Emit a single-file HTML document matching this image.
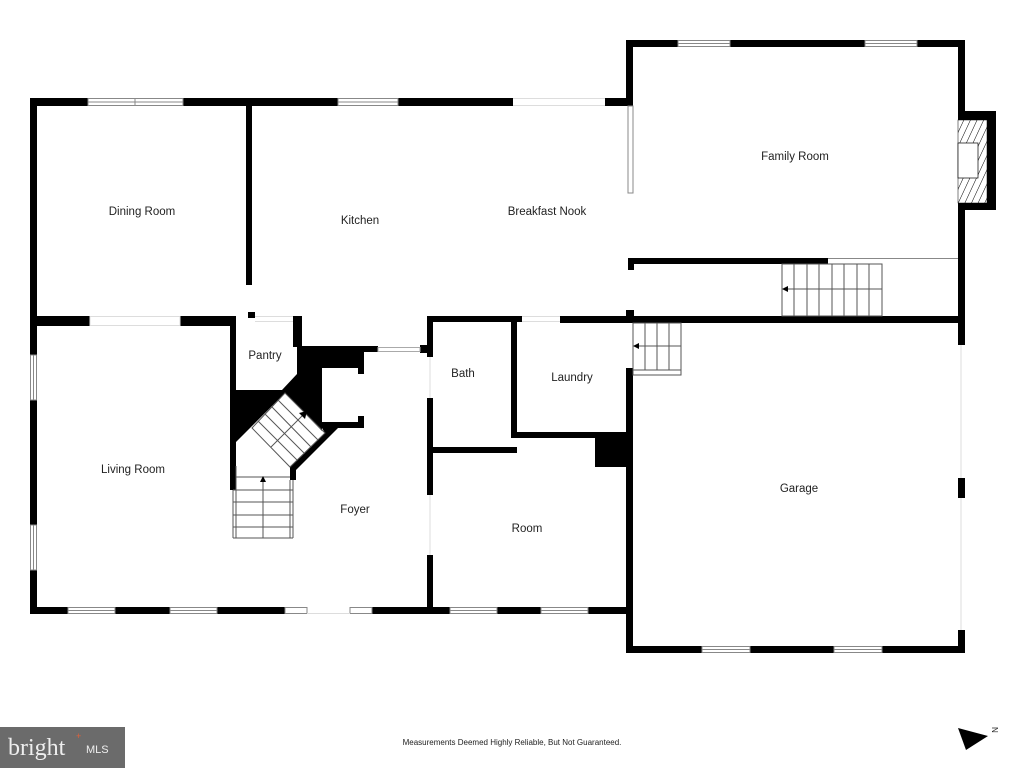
<!DOCTYPE html>
<html><head><meta charset="utf-8"><style>
html,body{margin:0;padding:0;background:#fff;width:1024px;height:768px;overflow:hidden}
svg{display:block}
text{font-family:"Liberation Sans",sans-serif;font-size:11.5px;fill:#222}
</style></head><body>
<svg width="1024" height="768" viewBox="0 0 1024 768" xmlns="http://www.w3.org/2000/svg">
<defs>
<pattern id="h" width="6" height="6" patternUnits="userSpaceOnUse" patternTransform="rotate(25)">
<rect width="6" height="6" fill="#fff"/><line x1="0" y1="0" x2="0" y2="6" stroke="#000" stroke-width="1"/></pattern>
</defs>
<g fill="#000">
<!-- main top wall -->
<rect x="30" y="98" width="58" height="8"/><rect x="183" y="98" width="155" height="8"/><rect x="398" y="98" width="115" height="8"/><rect x="605" y="98" width="28" height="8"/>
<!-- left wall -->
<rect x="30" y="98" width="7" height="257"/><rect x="30" y="400" width="7" height="125"/><rect x="30" y="570" width="7" height="44"/>
<!-- bottom wall -->
<rect x="30" y="607" width="38" height="7"/><rect x="115" y="607" width="55" height="7"/><rect x="217" y="607" width="68" height="7"/><rect x="372" y="607" width="78" height="7"/><rect x="497" y="607" width="44" height="7"/><rect x="588" y="607" width="44" height="7"/>
<!-- dining/living divider -->
<rect x="30" y="316" width="60" height="10"/><rect x="180" y="316" width="50" height="10"/>
<!-- dining/kitchen wall -->
<rect x="246" y="104" width="6" height="181"/><rect x="248" y="312" width="7" height="6"/>
<!-- pantry -->
<rect x="230" y="316" width="6" height="174"/><rect x="293" y="316" width="9" height="31"/>
<polygon points="236,390 282,390 297,374 297,346 364,346 364,368 322,368 322,431 285,393 235,443"/>
<rect x="363" y="346" width="15" height="6"/>
<rect x="322" y="422" width="42" height="6"/>
<rect x="358" y="366" width="6" height="8"/><rect x="358" y="416" width="6" height="8"/>
<polygon points="322,428 338,428 296,470 296,480 290,480 290,467 325,433"/>
<rect x="420" y="345" width="10" height="8"/>
<!-- bath/laundry -->
<rect x="427" y="316" width="6" height="41"/><rect x="427" y="398" width="6" height="97"/><rect x="427" y="555" width="6" height="59"/>
<rect x="427" y="316" width="95" height="6"/><rect x="560" y="316" width="405" height="7"/>
<rect x="511" y="316" width="6" height="122"/><rect x="430" y="447" width="87" height="6"/>
<rect x="511" y="432" width="117" height="6"/><rect x="595" y="432" width="33" height="35"/>
<!-- garage -->
<rect x="626" y="310" width="7" height="12"/><rect x="626" y="368" width="7" height="285"/>
<rect x="626" y="646" width="76" height="7"/><rect x="750" y="646" width="84" height="7"/><rect x="882" y="646" width="83" height="7"/>
<rect x="958" y="630" width="7" height="23"/><rect x="958" y="478" width="7" height="20"/><rect x="958" y="258" width="7" height="87"/>
<!-- hallway stair -->
<rect x="628" y="258" width="200" height="6"/><rect x="628" y="258" width="6" height="12"/><rect x="628" y="310" width="6" height="12"/>
<!-- family room -->
<rect x="626" y="40" width="52" height="7"/><rect x="730" y="40" width="135" height="7"/><rect x="917" y="40" width="48" height="7"/>
<rect x="626" y="40" width="7" height="66"/><rect x="958" y="40" width="7" height="218"/>
<rect x="958" y="111" width="38" height="99"/>
</g>
<rect x="958" y="120" width="29" height="83" fill="url(#h)" stroke="#000" stroke-width="0.5"/>
<rect x="958" y="143" width="20" height="35" fill="#fff" stroke="#000" stroke-width="0.7"/>
<g fill="none" stroke="#888" stroke-width="1">
<rect x="88" y="98.5" width="95" height="7"/><line x1="88" y1="102" x2="183" y2="102"/><line x1="135" y1="98" x2="135" y2="106"/>
<rect x="338" y="98.5" width="60" height="7"/><line x1="338" y1="102" x2="398" y2="102"/>
<line x1="513" y1="98.5" x2="605" y2="98.5" stroke="#ddd"/><line x1="513" y1="105.5" x2="605" y2="105.5" stroke="#ddd"/>
<rect x="628" y="106" width="5" height="87"/>
<rect x="678" y="40.5" width="52" height="6"/><line x1="678" y1="43.5" x2="730" y2="43.5"/>
<rect x="865" y="40.5" width="52" height="6"/><line x1="865" y1="43.5" x2="917" y2="43.5"/>
<rect x="30.5" y="355" width="6" height="45"/><line x1="33.5" y1="355" x2="33.5" y2="400"/>
<rect x="30.5" y="525" width="6" height="45"/><line x1="33.5" y1="525" x2="33.5" y2="570"/>
<rect x="68" y="607.5" width="47" height="6"/><line x1="68" y1="610.5" x2="115" y2="610.5"/>
<rect x="170" y="607.5" width="47" height="6"/><line x1="170" y1="610.5" x2="217" y2="610.5"/>
<rect x="285" y="607.5" width="22" height="6"/><rect x="350" y="607.5" width="22" height="6"/>
<line x1="307" y1="613.5" x2="350" y2="613.5" stroke="#ddd"/>
<rect x="450" y="607.5" width="47" height="6"/><line x1="450" y1="610.5" x2="497" y2="610.5"/>
<rect x="541" y="607.5" width="47" height="6"/><line x1="541" y1="610.5" x2="588" y2="610.5"/>
<rect x="702" y="646.5" width="48" height="6"/><line x1="702" y1="649.5" x2="750" y2="649.5"/>
<rect x="834" y="646.5" width="48" height="6"/><line x1="834" y1="649.5" x2="882" y2="649.5"/>
<rect x="90" y="316.5" width="90" height="9" stroke="#ddd"/>
<line x1="255" y1="316.5" x2="293" y2="316.5" stroke="#ddd"/><line x1="255" y1="321.5" x2="293" y2="321.5" stroke="#ddd"/>
<rect x="378" y="347.5" width="42" height="4" stroke="#aaa"/>
<line x1="522" y1="316.5" x2="560" y2="316.5" stroke="#ddd"/><line x1="522" y1="321.5" x2="560" y2="321.5" stroke="#ddd"/>
<line x1="828" y1="258.5" x2="958" y2="258.5"/>
<line x1="961" y1="345" x2="961" y2="478" stroke="#ddd"/><line x1="961" y1="498" x2="961" y2="630" stroke="#ddd"/>
<line x1="430" y1="357" x2="430" y2="398" stroke="#ddd"/><line x1="430" y1="495" x2="430" y2="555" stroke="#ddd"/>
</g>
<!-- stairs -->
<g stroke="#555" stroke-width="1" fill="none">
<line x1="233" y1="490" x2="233" y2="538"/><line x1="236" y1="466" x2="236" y2="538"/><line x1="290" y1="480" x2="290" y2="538"/><line x1="293" y1="480" x2="293" y2="538"/>
<line x1="236" y1="477" x2="290" y2="477"/><line x1="233" y1="490" x2="293" y2="490"/><line x1="233" y1="502" x2="293" y2="502"/><line x1="233" y1="515" x2="293" y2="515"/><line x1="233" y1="527" x2="293" y2="527"/><line x1="233" y1="538" x2="293" y2="538"/>
<line x1="263" y1="482" x2="263" y2="538"/>
<polygon points="285,393 325,433 290,467 252,428"/>
<line x1="278" y1="400" x2="318" y2="440"/><line x1="272" y1="407" x2="311" y2="447"/><line x1="265" y1="414" x2="304" y2="453"/><line x1="258" y1="421" x2="297" y2="460"/>
<line x1="271" y1="447" x2="303" y2="415"/>
<rect x="782" y="264" width="100" height="52"/>
<line x1="794" y1="264" x2="794" y2="316"/><line x1="807" y1="264" x2="807" y2="316"/><line x1="819" y1="264" x2="819" y2="316"/><line x1="832" y1="264" x2="832" y2="316"/><line x1="844" y1="264" x2="844" y2="316"/><line x1="857" y1="264" x2="857" y2="316"/><line x1="869" y1="264" x2="869" y2="316"/>
<line x1="786" y1="289" x2="882" y2="289"/>
<rect x="633" y="323" width="48" height="52"/>
<line x1="645" y1="323" x2="645" y2="370"/><line x1="657" y1="323" x2="657" y2="370"/><line x1="669" y1="323" x2="669" y2="370"/><line x1="633" y1="370" x2="681" y2="370"/>
<line x1="637" y1="346" x2="681" y2="346"/>
</g>
<g fill="#000"><polygon points="782,289 788,286 788,292"/><polygon points="633,346 639,343 639,349"/><polygon points="263,476 260,482 266,482"/><polygon points="307,411 299,413 305,419"/></g>
<!-- labels -->
<text x="142" y="215" text-anchor="middle">Dining Room</text>
<text x="360" y="224" text-anchor="middle">Kitchen</text>
<text x="547" y="215" text-anchor="middle">Breakfast Nook</text>
<text x="795" y="160" text-anchor="middle">Family Room</text>
<text x="265" y="359" text-anchor="middle">Pantry</text>
<text x="463" y="377" text-anchor="middle">Bath</text>
<text x="572" y="381" text-anchor="middle">Laundry</text>
<text x="133" y="473" text-anchor="middle">Living Room</text>
<text x="355" y="513" text-anchor="middle">Foyer</text>
<text x="527" y="532" text-anchor="middle">Room</text>
<text x="799" y="492" text-anchor="middle">Garage</text>
<text x="512" y="745" text-anchor="middle" style="font-size:8px">Measurements Deemed Highly Reliable, But Not Guaranteed.</text>
<rect x="0" y="727" width="125" height="41" fill="#6b6b6b"/>
<text x="8" y="755" style="font-family:'Liberation Serif',serif;font-size:24px;fill:#eee">bright</text>
<text x="86" y="753" style="font-size:11px;fill:#eee">MLS</text>
<text x="76" y="739" style="font-size:9px;fill:#e0603a">+</text>
<polygon points="958,728 988,736 966,750" fill="#000"/>
<text x="992" y="733" style="font-size:8px" transform="rotate(90 995 730)">N</text>
</svg>
</body></html>
